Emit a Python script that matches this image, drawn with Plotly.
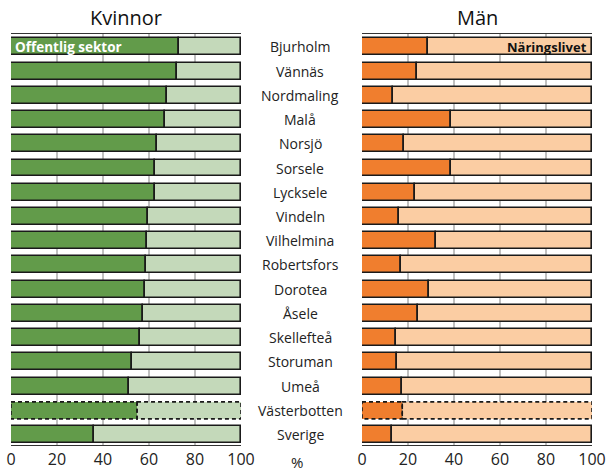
import plotly.graph_objects as go

categories = ["Bjurholm", "Vännäs", "Nordmaling", "Malå", "Norsjö", "Sorsele",
              "Lycksele", "Vindeln", "Vilhelmina", "Robertsfors", "Dorotea",
              "Åsele", "Skellefteå", "Storuman", "Umeå", "Västerbotten", "Sverige"]
kvinnor_offentlig = [73.0, 72.2, 67.8, 66.8, 63.3, 62.7, 62.5, 59.6, 59.0, 58.5,
                     58.4, 57.4, 56.2, 52.6, 51.2, 54.8, 36.1]
man_offentlig = [28.7, 23.9, 13.3, 38.8, 18.3, 38.7, 22.9, 16.1, 32.3, 17.0,
                 29.3, 24.3, 14.6, 15.3, 17.5, 17.5, 13.2]
tick_vals = [0, 20, 40, 60, 80, 100]
tick_text = ["0", "20", "40", "60", "80", "100"]
dashed_category = "Västerbotten"

W, H = 609, 471
FONT = "Open Sans"
DARK_GREEN = "#629b4a"
LIGHT_GREEN = "#c4d9ba"
DARK_ORANGE = "#f07e2e"
LIGHT_ORANGE = "#fbcda3"

ypos = list(range(len(categories)))
dash_idx = categories.index(dashed_category)
lw = [0 if i == dash_idx else 1.6 for i in ypos]
BW = 0.70

fig = go.Figure()

def add_panel(values, dark, light, xa, ya):
    rest = [100 - v for v in values]
    fig.add_trace(go.Bar(x=values, y=ypos, orientation="h", width=BW,
                         marker=dict(color=dark, line=dict(color="#1a1a1a", width=lw)),
                         xaxis=xa, yaxis=ya, showlegend=False, hoverinfo="skip"))
    fig.add_trace(go.Bar(x=rest, y=ypos, orientation="h", width=BW, base=values,
                         marker=dict(color=light, line=dict(color="#1a1a1a", width=lw)),
                         xaxis=xa, yaxis=ya, showlegend=False, hoverinfo="skip"))
    v = values[dash_idx]
    for x0, x1 in [(0, v), (v, 100)]:
        fig.add_shape(type="rect", xref=xa, yref=ya, x0=x0, x1=x1,
                      y0=dash_idx - BW / 2, y1=dash_idx + BW / 2,
                      line=dict(color="#1a1a1a", width=1.6, dash="4px,3px"),
                      layer="above")

add_panel(kvinnor_offentlig, DARK_GREEN, LIGHT_GREEN, "x", "y")
add_panel(man_offentlig, DARK_ORANGE, LIGHT_ORANGE, "x2", "y2")

yrange = [len(categories) - 1 + 0.43, -0.53]
axis_common = dict(range=[0, 100], tickvals=tick_vals, ticktext=tick_text,
                   showgrid=True, gridcolor="#c0c0c0", gridwidth=1.5,
                   showline=True, mirror=True, linecolor="#333333", linewidth=1.2,
                   zeroline=False, ticks="", fixedrange=True, automargin=False,
                   tickfont=dict(family=FONT, size=16, color="#222222"))
yaxis_common = dict(range=yrange, showticklabels=False, showgrid=False,
                    zeroline=False, showline=False, ticks="", fixedrange=True,
                    automargin=False)

fig.update_layout(
    template="none",
    width=W, height=H, autosize=False,
    margin=dict(l=0, r=0, t=0, b=0, pad=0),
    paper_bgcolor="white", plot_bgcolor="white",
    barmode="overlay", bargap=0,
    font=dict(family=FONT, size=14, color="#222222"),
    xaxis=dict(domain=[11 / W, 241 / W], anchor="y", **axis_common),
    yaxis=dict(domain=[1 - 445 / H, 1 - 34 / H], anchor="x", **yaxis_common),
    xaxis2=dict(domain=[362 / W, 592 / W], anchor="y2", **axis_common),
    yaxis2=dict(domain=[1 - 445 / H, 1 - 34 / H], anchor="x2", **yaxis_common),
)

# category labels centred between the panels
for i, c in enumerate(categories):
    fig.add_annotation(text=c, x=300 / W, xref="paper", y=i, yref="y",
                       showarrow=False, xanchor="center", yanchor="middle",
                       font=dict(family=FONT, size=14, color="#222222"))

# panel titles
fig.add_annotation(text="Kvinnor", x=126 / W, y=1 - 18 / H, xref="paper", yref="paper",
                   showarrow=False, xanchor="center", yanchor="middle",
                   font=dict(family=FONT, size=20, color="#111111"))
fig.add_annotation(text="Män", x=477 / W, y=1 - 18 / H, xref="paper", yref="paper",
                   showarrow=False, xanchor="center", yanchor="middle",
                   font=dict(family=FONT, size=20, color="#111111"))

# unit label
fig.add_annotation(text="%", x=297 / W, y=1 - 462 / H, xref="paper", yref="paper",
                   showarrow=False, xanchor="center", yanchor="middle",
                   font=dict(family=FONT, size=15, color="#222222"))

# in-bar labels
fig.add_annotation(text="<b>Offentlig sektor</b>", x=1, y=0, xref="x", yref="y",
                   showarrow=False, xanchor="left", yanchor="middle",
                   font=dict(family=FONT, size=13.5, color="white"))
fig.add_annotation(text="<b>Näringslivet</b>", x=98.5, y=0, xref="x2", yref="y2",
                   showarrow=False, xanchor="right", yanchor="middle",
                   font=dict(family=FONT, size=13, color="#111111"))

fig.write_html("out.html", config={"displayModeBar": False},
               post_script="document.body.style.margin='0';document.body.style.overflow='hidden';")
